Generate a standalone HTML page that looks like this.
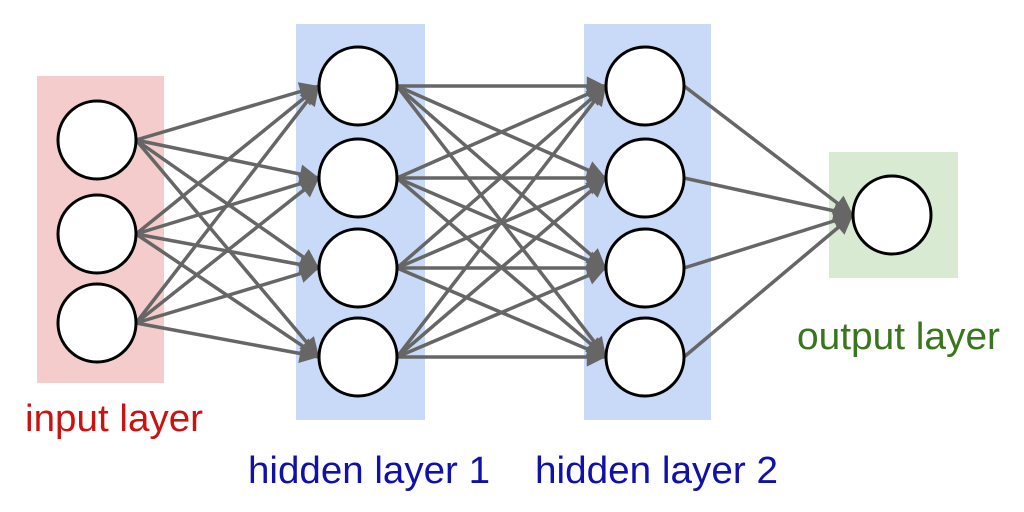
<!DOCTYPE html>
<html><head><style>body{margin:0;background:#fff}svg{display:block}</style></head><body>
<svg width="1024" height="512" viewBox="0 0 1024 512" xmlns="http://www.w3.org/2000/svg">
<defs><marker id="a" viewBox="0 0 10 10" refX="10" refY="5" markerWidth="6.5" markerHeight="5.5" markerUnits="strokeWidth" orient="auto"><path d="M0,0L10,5L0,10z" fill="#666"/></marker></defs>
<rect x="37" y="76" width="127" height="307" fill="#f4cccc"/>
<rect x="296" y="24" width="129" height="396" fill="#c9daf8"/>
<rect x="584" y="24" width="127" height="396" fill="#c9daf8"/>
<rect x="829" y="152" width="129" height="126" fill="#d9ead3"/>
<g id="lines" stroke="#666" stroke-width="3.5" marker-end="url(#a)"></g>
<g id="c" fill="#fff" stroke="#000" stroke-width="3"></g>
<g font-family="Liberation Sans, sans-serif" font-size="38">
<text x="25" y="431" fill="#cc1111" textLength="178" lengthAdjust="spacingAndGlyphs">input layer</text>
<text x="248" y="483" fill="#1010aa" textLength="242" lengthAdjust="spacingAndGlyphs">hidden layer 1</text>
<text x="535" y="483" fill="#1010aa" textLength="243" lengthAdjust="spacingAndGlyphs">hidden layer 2</text>
<text x="797" y="349" fill="#38761d" textLength="203" lengthAdjust="spacingAndGlyphs">output layer</text>
</g>
</svg>
<script>
var L=[[97,[140,234,323]],[358,[86,178,268,357]],[645,[86,178,268,357]],[892,[215]]],r=39;
var ns="http://www.w3.org/2000/svg",lg=document.getElementById('lines'),cg=document.getElementById('c');
for(var i=0;i<3;i++){var A=L[i],B=L[i+1];A[1].forEach(function(y1){B[1].forEach(function(y2){var l=document.createElementNS(ns,'line');l.setAttribute('x1',A[0]+r);l.setAttribute('y1',y1);l.setAttribute('x2',B[0]-r);l.setAttribute('y2',y2);lg.appendChild(l);});});}
L.forEach(function(c){c[1].forEach(function(y){var e=document.createElementNS(ns,'circle');e.setAttribute('cx',c[0]);e.setAttribute('cy',y);e.setAttribute('r',r);cg.appendChild(e);});});
</script>
</body></html>
